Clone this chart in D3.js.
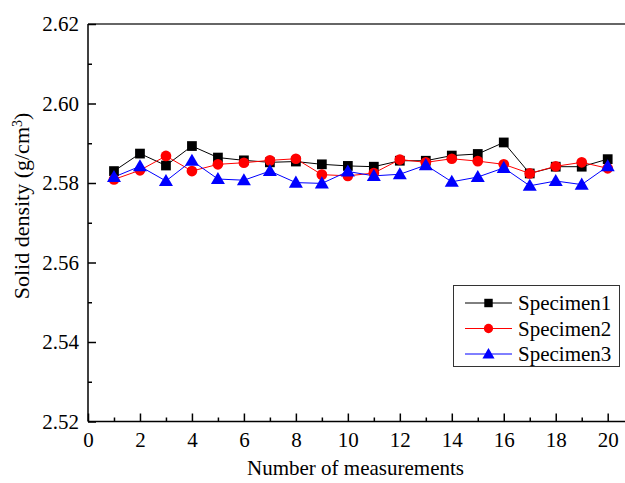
<!DOCTYPE html>
<html>
<head>
<meta charset="utf-8">
<script src="https://cdn.jsdelivr.net/npm/d3@7"></script>
<style>
  body { margin: 0; background: #fff; }
  svg text { font-family: "Liberation Serif", "Times New Roman", serif; fill: #000; }
</style>
</head>
<body>
<svg id="chart" width="625" height="483"></svg>
<script>
const measurements = d3.range(1, 21);
const specimen1 = [2.5830, 2.5874, 2.5844, 2.5893, 2.5864, 2.5857, 2.5852, 2.5854, 2.5847, 2.5843,
                   2.5841, 2.5856, 2.5856, 2.5869, 2.5873, 2.5902, 2.5824, 2.5841, 2.5841, 2.5860];
const specimen2 = [2.5809, 2.5832, 2.5868, 2.5830, 2.5847, 2.5851, 2.5857, 2.5861, 2.5821, 2.5818,
                   2.5825, 2.5859, 2.5852, 2.5861, 2.5855, 2.5847, 2.5824, 2.5842, 2.5852, 2.5837];
const specimen3 = [2.5815, 2.5842, 2.5805, 2.5856, 2.5810, 2.5807, 2.5830, 2.5801, 2.5799, 2.5829,
                   2.5818, 2.5822, 2.5845, 2.5803, 2.5815, 2.5838, 2.5793, 2.5805, 2.5796, 2.5842];
const seriesNames = ["Specimen1", "Specimen2", "Specimen3"];
const seriesColors = ["#000000", "#ff0000", "#0000ff"];
const seriesSymbols = [d3.symbolSquare, d3.symbolCircle, d3.symbolTriangle];
const xTicks = d3.range(0, 21, 2);
const yTicks = [2.52, 2.54, 2.56, 2.58, 2.60, 2.62];

const serif = '"Liberation Serif", "Times New Roman", serif';
const svg = d3.select("#chart");
const plotLeft = 88, plotTop = 24, plotBottom = 421.5;

const x = d3.scaleLinear().domain([0, 20]).range([plotLeft, 607.7]);
const y = d3.scaleLinear().domain([2.52, 2.62]).range([plotBottom, plotTop]);

// top frame line
svg.append("line")
  .attr("x1", plotLeft).attr("x2", 625)
  .attr("y1", plotTop).attr("y2", plotTop)
  .attr("stroke", "#333").attr("stroke-width", 1.5);

// x axis, ticks inward
const xMinor = svg.append("g").attr("transform", `translate(0,${plotBottom})`)
  .call(d3.axisBottom(x).tickValues(d3.range(1, 21, 2)).tickSize(-4).tickFormat(""));
xMinor.select(".domain").remove();
const xMajor = svg.append("g").attr("transform", `translate(0,${plotBottom})`)
  .call(d3.axisBottom(x).tickValues(xTicks).tickSize(-8).tickPadding(11).tickFormat(d3.format("d")));
xMajor.select(".domain").remove();
svg.append("line")
  .attr("x1", plotLeft).attr("x2", 625)
  .attr("y1", plotBottom).attr("y2", plotBottom)
  .attr("stroke", "#000").attr("stroke-width", 1.5);

// y axis, ticks inward
const yMinor = svg.append("g").attr("transform", `translate(${plotLeft},0)`)
  .call(d3.axisLeft(y).tickValues([2.53, 2.55, 2.57, 2.59, 2.61]).tickSize(-4).tickFormat(""));
yMinor.select(".domain").remove();
const yMajor = svg.append("g").attr("transform", `translate(${plotLeft},0)`)
  .call(d3.axisLeft(y).tickValues(yTicks).tickSize(-8).tickPadding(9).tickFormat(d3.format(".2f")));
yMajor.select(".domain").remove();
svg.append("line")
  .attr("x1", plotLeft).attr("x2", plotLeft)
  .attr("y1", plotTop).attr("y2", plotBottom)
  .attr("stroke", "#000").attr("stroke-width", 1.5);
svg.selectAll(".tick line").attr("stroke-width", 1.5);
svg.selectAll(".tick text")
  .style("font-family", serif)
  .style("font-size", "21px");

// axis titles
svg.append("text")
  .attr("x", (plotLeft + 625) / 2 - 1).attr("y", 475)
  .attr("text-anchor", "middle")
  .style("font-family", serif).style("font-size", "21px")
  .text("Number of measurements");

const yTitle = svg.append("text")
  .attr("transform", "translate(29,206) rotate(-90)")
  .attr("text-anchor", "middle")
  .style("font-family", serif).style("font-size", "22px");
yTitle.append("tspan").text("Solid density (g/cm");
yTitle.append("tspan").attr("baseline-shift", "super").style("font-size", "14px").text("3");
yTitle.append("tspan").text(")");

// series
const allSeries = [specimen1, specimen2, specimen3];
const line = d3.line().x((d, i) => x(measurements[i])).y(d => y(d));
const symbolSizes = [95, 90, 85];

allSeries.forEach((values, k) => {
  svg.append("path")
    .datum(values)
    .attr("d", line)
    .attr("fill", "none")
    .attr("stroke", seriesColors[k])
    .attr("stroke-width", 1);
});
allSeries.forEach((values, k) => {
  svg.append("g").selectAll("path")
    .data(values)
    .join("path")
    .attr("transform", (d, i) => `translate(${x(measurements[i])},${y(d) + (k === 2 ? 1 : 0)})`)
    .attr("d", d3.symbol().type(seriesSymbols[k]).size(symbolSizes[k]))
    .attr("fill", seriesColors[k]);
});

// legend
const legend = svg.append("g");
legend.append("rect")
  .attr("x", 453.5).attr("y", 285.5)
  .attr("width", 166).attr("height", 81)
  .attr("fill", "#fff").attr("stroke", "#333").attr("stroke-width", 1);
seriesNames.forEach((name, k) => {
  const ly = 303 + k * 25.5;
  legend.append("line")
    .attr("x1", 465).attr("x2", 512)
    .attr("y1", ly).attr("y2", ly)
    .attr("stroke", seriesColors[k]).attr("stroke-width", 1);
  legend.append("path")
    .attr("transform", `translate(488.5,${ly + (k === 2 ? 1 : 0)})`)
    .attr("d", d3.symbol().type(seriesSymbols[k]).size(symbolSizes[k] * 0.75))
    .attr("fill", seriesColors[k]);
  legend.append("text")
    .attr("x", 518).attr("y", ly + 7)
    .style("font-family", serif).style("font-size", "21px")
    .text(name);
});
</script>
</body>
</html>
